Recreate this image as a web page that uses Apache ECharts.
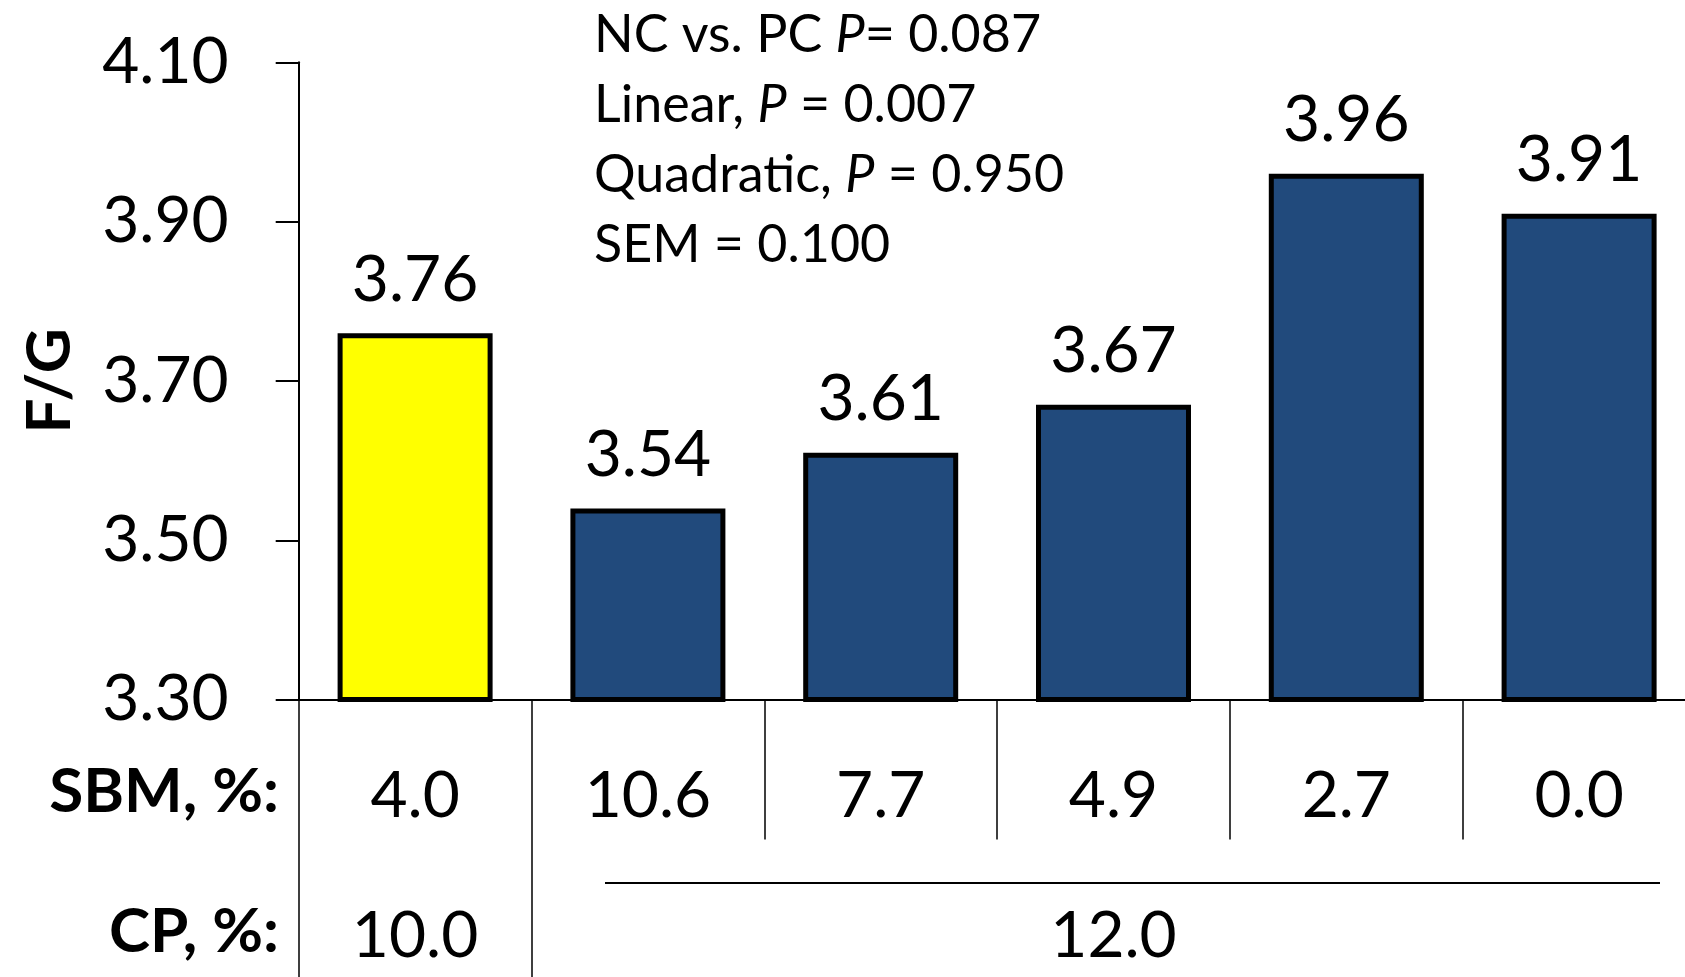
<!DOCTYPE html>
<html><head><meta charset="utf-8">
<script src="https://cdn.jsdelivr.net/npm/echarts@6/dist/echarts.min.js"></script>
<style>html,body{margin:0;padding:0;background:#fff}#c{width:1685px;height:977px}</style>
</head><body><div id="c"></div>
<script>
const sbmLabels = ['4.0', '10.6', '7.7', '4.9', '2.7', '0.0'];
const cpLabels = ['10.0', '', '', '12.0', '', ''];
const fgValues = [3.76, 3.54, 3.61, 3.67, 3.96, 3.91];
const barColors = ['#FFFF00', '#214A7C', '#214A7C', '#214A7C', '#214A7C', '#214A7C'];
const yMin = 3.3, yMax = 4.1, yStep = 0.2;
const statLines = [
  ['NC vs. PC ', 'P', '= 0.087'],
  ['Linear, ', 'P', ' = 0.007'],
  ['Quadratic, ', 'P', ' = 0.950'],
  ['SEM = 0.100', '', '']
];
const FONT = 'Lato';

const chart = echarts.init(document.getElementById('c'), null, {renderer: 'canvas'});
const statText = statLines.map(l => '{n|' + l[0] + '}' + (l[1] ? '{i|' + l[1] + '}' : '') + (l[2] ? '{n|' + l[2] + '}' : '')).join('\n');

chart.setOption({
  backgroundColor: '#ffffff',
  animation: false,
  title: {
    text: statText, left: 594, top: 0, padding: 0,
    textStyle: {
      fontFamily: FONT, fontSize: 52, fontWeight: 'normal', lineHeight: 70, color: '#000',
      rich: {
        n: {fontFamily: FONT, fontSize: 52, fontWeight: 'normal', lineHeight: 70, color: '#000'},
        i: {fontFamily: FONT, fontSize: 52, fontWeight: 'normal', lineHeight: 70, fontStyle: 'italic', color: '#000'}
      }
    }
  },
  grid: {left: 298.7, right: -10.5, top: 62.3, bottom: 277.4, containLabel: false, outerBoundsMode: 'none'},
  xAxis: [
    {
      type: 'category', data: sbmLabels, position: 'bottom',
      axisLine: {show: true, lineStyle: {color: '#000', width: 2}},
      axisTick: {show: true, length: 140, lineStyle: {color: '#000', width: 1.5}},
      axisLabel: {fontFamily: FONT, fontSize: 64, lineHeight: 64, color: '#000', margin: 65, interval: 0}
    },
    {
      type: 'category', data: cpLabels, position: 'bottom',
      axisLine: {show: false},
      axisTick: {show: true, length: 278, interval: function (i) { return i <= 1; }, lineStyle: {color: '#000', width: 1.5}},
      axisLabel: {fontFamily: FONT, fontSize: 64, lineHeight: 64, color: '#000', margin: 205, interval: 0}
    }
  ],
  yAxis: {
    type: 'value', min: yMin, max: yMax, interval: yStep,
    name: 'F/G', nameLocation: 'middle', nameGap: 218, nameRotate: 90,
    nameTextStyle: {fontFamily: FONT, fontSize: 62, fontWeight: 'bold', color: '#000'},
    splitLine: {show: false},
    axisLine: {show: true, lineStyle: {color: '#000', width: 2}},
    axisTick: {show: true, length: 23, lineStyle: {color: '#000', width: 2}},
    axisLabel: {fontFamily: FONT, fontSize: 64, color: '#000', margin: 70, formatter: v => v.toFixed(2)}
  },
  series: [{
    type: 'bar', xAxisIndex: 0, barWidth: 155,
    data: fgValues.map((v, i) => ({value: v, itemStyle: {color: barColors[i]}})),
    itemStyle: {borderColor: '#000', borderWidth: 5},
    label: {show: true, position: 'top', distance: 21, fontFamily: FONT, fontSize: 64, color: '#000', formatter: p => p.value.toFixed(2)}
  }],
  graphic: [
    {type: 'text', right: 1685 - 279, top: 797 - 36, style: {text: 'SBM, %:', font: 'bold 62px ' + FONT, fill: '#000', textAlign: 'right'}},
    {type: 'text', right: 1685 - 279, top: 937 - 36, style: {text: 'CP, %:', font: 'bold 62px ' + FONT, fill: '#000', textAlign: 'right'}},
    {type: 'line', shape: {x1: 605, y1: 883, x2: 1660, y2: 883}, style: {stroke: '#000', lineWidth: 2}}
  ]
});
</script></body></html>
